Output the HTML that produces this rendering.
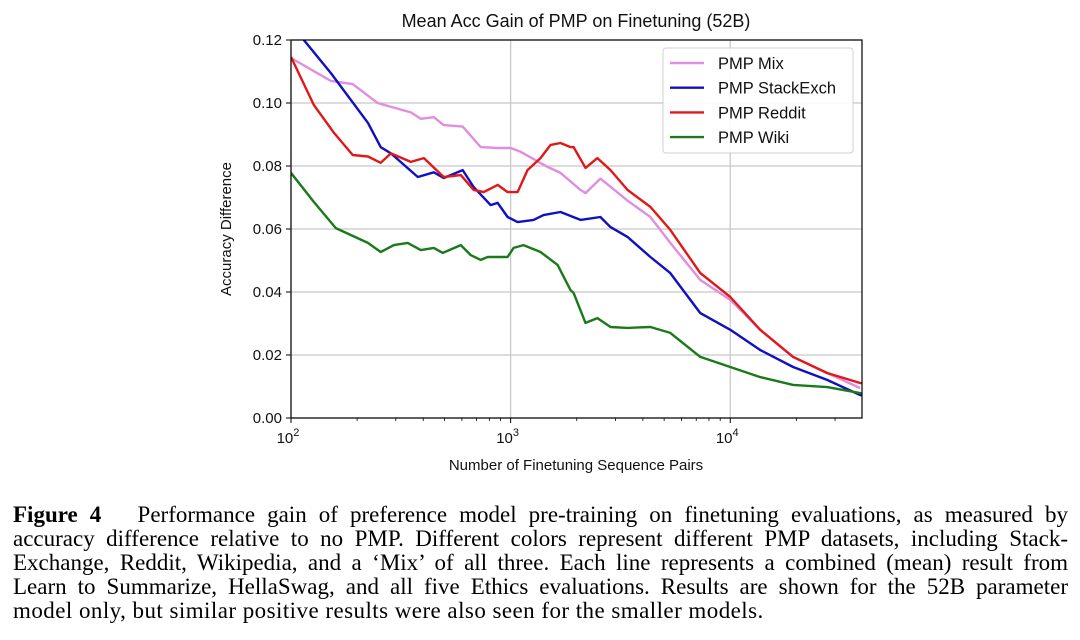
<!DOCTYPE html>
<html><head><meta charset="utf-8"><style>
body{margin:0;width:1080px;height:640px;background:#fff;overflow:hidden;position:relative;font-family:"Liberation Sans",sans-serif}
svg{position:absolute;left:0;top:0}
.cap{position:absolute;left:13px;width:1055px;font-family:"Liberation Serif",serif;font-size:23px;text-align:justify;text-align-last:justify;white-space:nowrap;line-height:24px}
</style></head><body>
<svg id="chart" width="1080" height="500"></svg>
<div class="cap" style="top:503px"><b>Figure 4</b>&nbsp;&nbsp; Performance gain of preference model pre-training on finetuning evaluations, as measured by</div>
<div class="cap" style="top:527px">accuracy difference relative to no PMP. Different colors represent different PMP datasets, including Stack-</div>
<div class="cap" style="top:551px">Exchange, Reddit, Wikipedia, and a ‘Mix’ of all three. Each line represents a combined (mean) result from</div>
<div class="cap" style="top:575px">Learn to Summarize, HellaSwag, and all five Ethics evaluations. Results are shown for the 52B parameter</div>
<div class="cap" style="top:599px;text-align-last:left;letter-spacing:0.45px">model only, but similar positive results were also seen for the smaller models.</div>
<script>
const yTicks=[0,0.02,0.04,0.06,0.08,0.10,0.12];
const yTickLabels=["0.00","0.02","0.04","0.06","0.08","0.10","0.12"];
const xDecades=[100,1000,10000];
const xDecadeExp=["2","3","4"];
const seriesNames=["PMP Mix","PMP StackExch","PMP Reddit","PMP Wiki"];
const seriesColors=["#e08ee0","#1010c0","#e01818","#1a7a1a"];
const mixX=[100,152,191,248,351,390,447,496,605,731,873,1000,1110,1473,1687,2080,2193,2564,3404,4329,5336,7305,10000,13690,19320,27590,39000];
const mixY=[0.1143,0.107,0.106,0.100,0.097,0.095,0.0955,0.093,0.0925,0.086,0.0857,0.0857,0.0845,0.0797,0.0778,0.0724,0.0714,0.076,0.069,0.0638,0.0556,0.0438,0.0375,0.028,0.0194,0.0143,0.0095];
const stackX=[100,152,224,256,285,378,447,496,605,679,811,873,969,1076,1272,1412,1687,2080,2564,2849,3404,4329,5336,7305,10000,13690,19320,27590,39000,40000];
const stackY=[0.125,0.1095,0.0937,0.086,0.084,0.0765,0.078,0.0762,0.0787,0.0733,0.0676,0.0683,0.0638,0.0622,0.0629,0.0644,0.0654,0.0629,0.0638,0.0606,0.0575,0.0511,0.046,0.0333,0.028,0.0216,0.0162,0.0121,0.0073,0.0071];
const redditX=[100,127,157,191,224,256,285,351,403,496,593,679,754,873,969,1076,1194,1368,1520,1687,1874,1936,2193,2485,2849,3404,4329,5336,7305,10000,13690,19320,27590,39000,40000];
const redditY=[0.1146,0.0994,0.0905,0.0835,0.083,0.081,0.084,0.0813,0.0825,0.0765,0.0771,0.0724,0.0717,0.074,0.0717,0.0717,0.0787,0.0825,0.0867,0.0873,0.086,0.086,0.0794,0.0825,0.0787,0.0724,0.067,0.0597,0.046,0.0384,0.028,0.0194,0.0143,0.0111,0.0110];
const wikiX=[100,127,160,224,256,294,340,390,447,491,593,658,731,786,969,1032,1144,1368,1636,1874,1936,2193,2485,2849,3404,4329,5336,7305,10000,13690,19320,27590,39000,40000];
const wikiY=[0.0778,0.0686,0.0603,0.0556,0.0527,0.0549,0.0556,0.0533,0.054,0.0524,0.0549,0.0517,0.0502,0.0511,0.0511,0.054,0.0549,0.0527,0.0486,0.0406,0.0397,0.0302,0.0317,0.0289,0.0286,0.0289,0.027,0.0194,0.0162,0.013,0.0105,0.0098,0.0079,0.0077];
const L=291,R=862,T=40,B=418,XMIN=100,XMAX=39800,YMAX=0.12;
function sx(v){return L+(Math.log10(v)-Math.log10(XMIN))/(Math.log10(XMAX)-Math.log10(XMIN))*(R-L);}
function sy(v){return B-v/YMAX*(B-T);}
const NS="http://www.w3.org/2000/svg";
const svg=document.getElementById('chart');
function mk(tag,attrs,parent){const e=document.createElementNS(NS,tag);for(const k in attrs)e.setAttribute(k,attrs[k]);(parent||svg).appendChild(e);return e;}
const clip=mk('clipPath',{id:'pc'});mk('rect',{x:L,y:T,width:R-L,height:B-T},clip);
yTicks.forEach((v,i)=>{
 const g=mk('line',{x1:L,x2:R,y1:sy(v),y2:sy(v),stroke:'#c8c8c8','stroke-width':1.3});
 
 
 mk('line',{x1:L-5,x2:L,y1:sy(v),y2:sy(v),stroke:'#000','stroke-width':1});
 const t=mk('text',{x:L-9,y:sy(v)+5,'text-anchor':'end','font-size':15,fill:'#111'});
 t.textContent=yTickLabels[i];
 
 
});
xDecades.forEach((v,i)=>{
 const g=mk('line',{x1:sx(v),x2:sx(v),y1:T,y2:B,stroke:'#c8c8c8','stroke-width':1.3});
 
 
 mk('line',{x1:sx(v),x2:sx(v),y1:B,y2:B+5,stroke:'#000','stroke-width':1});
 const t=mk('text',{x:sx(v)-3,y:B+25,'text-anchor':'middle','font-size':15,fill:'#111'});
 t.innerHTML='10<tspan dy="-7" font-size="11">'+xDecadeExp[i]+'</tspan>';
 
 
});
for(let d=100;d<XMAX;d*=10){for(let m=2;m<10;m++){const v=d*m;if(v>XMAX)break;mk('line',{x1:sx(v),x2:sx(v),y1:B,y2:B+3,stroke:'#000','stroke-width':0.8});}}
[[mixX,mixY],[stackX,stackY],[redditX,redditY],[wikiX,wikiY]].forEach((s,i)=>{
 const pts=s[0].map((x,j)=>sx(x).toFixed(1)+','+sy(s[1][j]).toFixed(1)).join(' ');
 const p=mk('polyline',{points:pts,fill:'none',stroke:seriesColors[i],'stroke-width':2.4,'clip-path':'url(#pc)','stroke-linejoin':'round'});
 
 
});
const frame=mk('rect',{x:L,y:T,width:R-L,height:B-T,fill:'none',stroke:'#000','stroke-width':1.2});


const lg=mk('g',{});


mk('rect',{x:663,y:48,width:190,height:105,rx:3,fill:'#fff','fill-opacity':0.9,stroke:'#d0d0d0'},lg);
seriesNames.forEach((n,i)=>{
 const y=63+i*24.7;
 const e=mk('g',{},lg);
 
 
 mk('line',{x1:670,x2:704,y1:y,y2:y,stroke:seriesColors[i],'stroke-width':2.4},e);
 const t=mk('text',{x:718,y:y+6,'font-size':16.5,fill:'#111'},e);t.textContent=n;
});
const title=mk('text',{x:576,y:27,'text-anchor':'middle','font-size':18,fill:'#111'});
title.textContent='Mean Acc Gain of PMP on Finetuning (52B)';


const xl=mk('text',{x:576,y:470,'text-anchor':'middle','font-size':15,fill:'#111'});
xl.textContent='Number of Finetuning Sequence Pairs';


const yl=mk('text',{x:0,y:0,'text-anchor':'middle','font-size':15,fill:'#111',transform:'translate(231,229) rotate(-90)'});
yl.textContent='Accuracy Difference';


</script>
</body></html>
